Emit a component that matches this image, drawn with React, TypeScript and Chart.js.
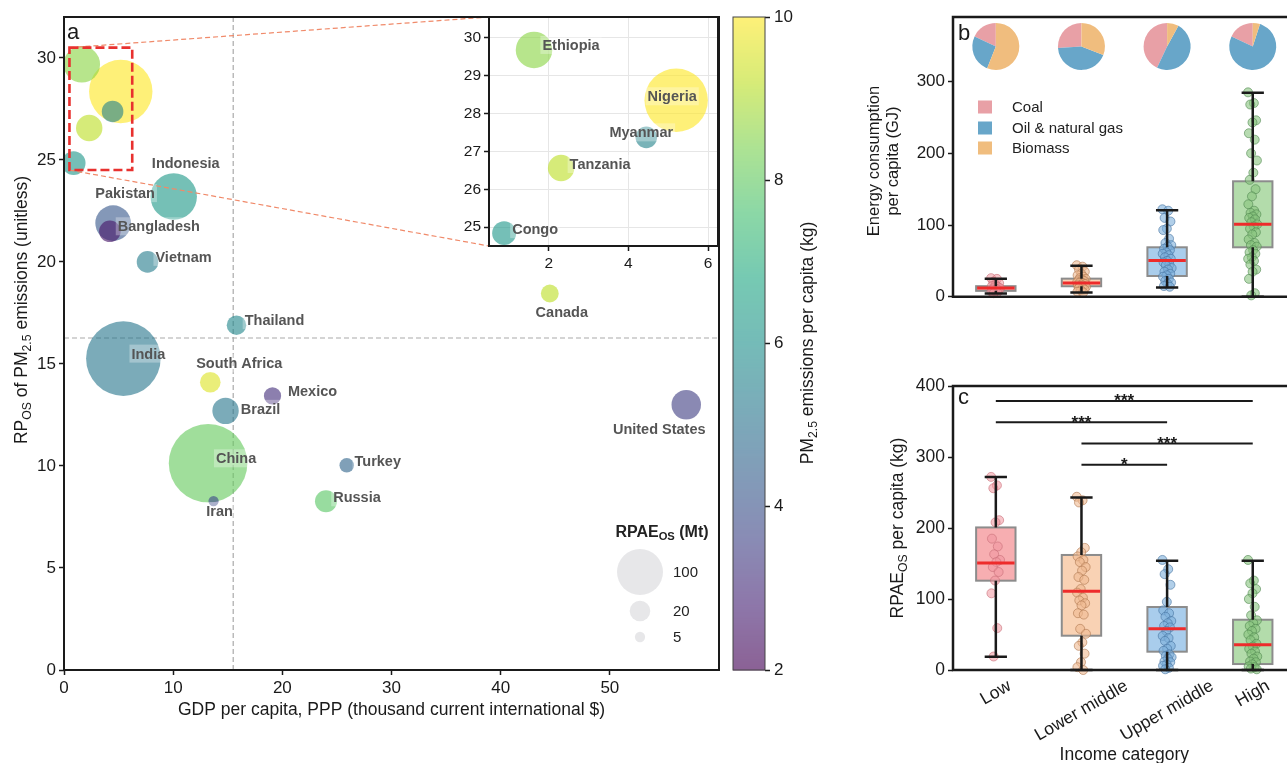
import React, { useEffect, useRef } from 'react';
import { Chart, registerables } from 'chart.js';

Chart.register(...registerables);

const FONT = '"Liberation Sans", Arial, Helvetica, sans-serif';
Chart.defaults.font.family = FONT;
Chart.defaults.color = '#1a1a1a';

// ================= Panel a data =================
const COUNTRIES = ['China', 'India', 'Nigeria', 'Indonesia', 'Ethiopia', 'Pakistan', 'United States', 'Brazil', 'Tanzania', 'Congo', 'Russia', 'Bangladesh', 'Vietnam', 'Myanmar', 'South Africa', 'Thailand', 'Canada', 'Mexico', 'Turkey', 'Iran'];
const GDP_PPP = [13.2, 5.44, 5.2, 10.05, 1.63, 4.5, 57.0, 14.8, 2.31, 0.88, 24.0, 4.2, 7.65, 4.45, 13.4, 15.8, 44.5, 19.1, 25.9, 13.7];
const RP_OS = [10.13, 15.26, 28.35, 23.2, 29.68, 21.9, 13.0, 12.7, 26.56, 24.84, 8.27, 21.5, 20.0, 27.37, 14.1, 16.9, 18.45, 13.43, 10.03, 8.28];
const PM_PER_CAPITA = [8.1, 5.2, 10.0, 6.3, 8.6, 4.2, 3.5, 5.2, 9.2, 6.2, 7.9, 2.5, 5.4, 5.6, 9.6, 5.7, 9.2, 3.1, 4.6, 3.8];
const RPAE_MT = [292, 263, 190, 102, 63, 60, 41, 33, 33, 27, 23, 22, 22, 22, 20, 18, 15, 14, 10, 5];
const GDP_SPLIT = 15.5;
const RP_SPLIT = 16.27;
const SIZE_LEGEND = [100, 20, 5];
const MAIN_X_TICKS = [0, 10, 20, 30, 40, 50];
const MAIN_Y_TICKS = [0, 5, 10, 15, 20, 25, 30];
const INSET_X = [0.5, 6.25];
const INSET_Y = [24.5, 30.55];
const INSET_X_TICKS = [2, 4, 6];
const INSET_Y_TICKS = [25, 26, 27, 28, 29, 30];
const CBAR_MIN = 2;
const CBAR_MAX = 10;
const CBAR_TICKS = [2, 4, 6, 8, 10];

// label layout (pixel offsets from bubble centre)
const LABEL_OFFSETS_MAIN: Record<string, [number, number]> = {
  Indonesia: [12, -34], Pakistan: [12, -30], Bangladesh: [49, -5], Vietnam: [36, -5], Thailand: [38, -5],
  Canada: [12, 18], India: [25, -5], 'South Africa': [29, -19], Mexico: [40, -5], Brazil: [35, -2],
  'United States': [-27, 24], China: [28, -5], Turkey: [31, -4], Iran: [6, 10], Russia: [31, -4],
};
const LABEL_OFFSETS_INSET: Record<string, [number, number]> = {
  Ethiopia: [37, -5], Nigeria: [-4, -4], Myanmar: [-5, -5], Tanzania: [39, -4], Congo: [31, -4],
};

// ================= Panel b / c data =================
const INCOME_GROUPS = ['Low', 'Lower middle', 'Upper middle', 'High'];

const ENERGY_LOW = [26, 25, 21, 19, 17, 15, 14, 13, 12, 11, 10, 9, 8, 7, 6, 5];
const ENERGY_LOWER_MIDDLE = [44, 42, 38, 35, 32, 30, 28, 26, 25, 24, 23, 22, 21, 20, 19, 19, 18, 17, 16, 15, 15, 14, 13, 12, 10, 9, 7, 6];
const ENERGY_UPPER_MIDDLE = [122, 120, 110, 105, 95, 93, 81, 75, 72, 70, 67, 65, 62, 60, 58, 55, 53, 50, 48, 45, 44, 40, 38, 35, 32, 30, 28, 25, 22, 20, 18, 15, 14];
const ENERGY_HIGH = [285, 270, 268, 246, 243, 228, 219, 200, 190, 173, 163, 150, 140, 129, 120, 117, 115, 112, 110, 108, 104, 101, 98, 95, 90, 87, 80, 75, 72, 70, 65, 62, 60, 55, 53, 50, 45, 38, 35, 25, 5, 2];
const ENERGY_Q1 = [8.3, 14.7, 29, 69];
const ENERGY_MEDIAN = [12.4, 19.3, 50.6, 101];
const ENERGY_Q3 = [14.8, 25.3, 69, 161];
const ENERGY_WHISK_LO = [4.6, 6, 12.9, 0];
const ENERGY_WHISK_HI = [25.3, 43.3, 120.6, 284.5];
const ENERGY_TICKS = [0, 100, 200, 300];

const SHARE_COAL = [18, 26, 43, 18];
const SHARE_OIL_GAS = [26, 43, 49, 77];
const SHARE_BIOMASS = [56, 31, 8, 5];
const FUEL_NAMES = ['Coal', 'Oil & natural gas', 'Biomass'];
const PIE_LEVEL = 349;

const RPAE_LOW = [272, 260, 256, 211, 208, 185, 174, 163, 155, 152, 145, 138, 126, 108, 59, 19];
const RPAE_LOWER_MIDDLE = [244, 239, 236, 172, 166, 160, 155, 152, 145, 140, 131, 127, 114, 109, 102, 98, 94, 91, 80, 78, 58, 51, 39, 34, 23, 11, 4, 0];
const RPAE_UPPER_MIDDLE = [155, 142, 135, 120, 96, 84, 80, 75, 69, 66, 62, 60, 55, 48, 45, 41, 34, 30, 27, 22, 20, 18, 16, 12, 11, 8, 6, 3, 1];
const RPAE_HIGH = [155, 126, 122, 114, 108, 100, 89, 77, 70, 66, 62, 58, 55, 50, 46, 42, 37, 33, 30, 26, 23, 19, 16, 12, 11, 8, 5, 4, 2, 1];
const RPAE_Q1 = [125.8, 48.3, 25.8, 8.4];
const RPAE_MEDIAN = [150.7, 111, 58.2, 35.6];
const RPAE_Q3 = [200.8, 162, 88.7, 70.8];
const RPAE_WHISK_LO = [18.7, 0, 0, 0];
const RPAE_WHISK_HI = [272, 243, 154, 154];
const RPAE_TICKS = [0, 100, 200, 300, 400];

const SIG_FROM = [0, 0, 1, 1];
const SIG_TO = [3, 2, 3, 2];
const SIG_LEVEL = [379, 349, 319, 289];
const SIG_TEXT = ['***', '***', '***', '*'];

// ================= styles =================
const VIRIDIS_STOPS = [[68, 1, 84], [72, 36, 117], [65, 68, 135], [53, 95, 141], [42, 120, 142], [33, 145, 140], [34, 168, 132], [68, 191, 112], [122, 209, 81], [189, 223, 38], [253, 231, 37]];
const BUBBLE_ALPHA = 0.62;
const FUEL_COLORS = ['#e8a0a6', '#68a6c9', '#f0bd7e'];
const BOX_FILLS = ['#f7aeb1', '#f9d2b4', '#a9cdec', '#b3dcab'];
const POINT_FILLS = ['rgba(240,150,158,0.55)', 'rgba(238,185,145,0.6)', 'rgba(125,175,218,0.6)', 'rgba(135,195,125,0.6)'];
const POINT_EDGES = ['rgba(200,110,120,0.6)', 'rgba(175,120,80,0.6)', 'rgba(70,115,160,0.6)', 'rgba(80,135,80,0.6)'];
const BOX_W = 0.46;
const CAP_W = 0.26;
const INK = '#1a1a1a';

function viridis(t: number): number[] {
  const tt = Math.max(0, Math.min(1, t)) * 10;
  const i = Math.min(9, Math.floor(tt));
  const f = tt - i;
  const a = VIRIDIS_STOPS[i];
  const b = VIRIDIS_STOPS[i + 1];
  return [0, 1, 2].map(k => a[k] + (b[k] - a[k]) * f);
}
function pmColor(v: number, alpha: number) {
  const [r, g, b] = viridis((v - CBAR_MIN) / (CBAR_MAX - CBAR_MIN));
  return `rgba(${Math.round(r)},${Math.round(g)},${Math.round(b)},${alpha})`;
}
function pmColorOpaque(v: number, alpha: number) {
  const c = viridis((v - CBAR_MIN) / (CBAR_MAX - CBAR_MIN)).map(x => Math.round(x * alpha + 255 * (1 - alpha)));
  return `rgb(${c[0]},${c[1]},${c[2]})`;
}
function bubbleRadius(v: number) {
  return 2.3 * Math.sqrt(v);
}
function jitter(i: number) {
  return (((i * 0.618034) % 1) - 0.5) * 0.11;
}
function fixedTicks(values: number[]) {
  return (s: any) => { s.ticks = values.map(v => ({ value: v })); };
}

type Run = [string, boolean];
function drawRich(ctx: CanvasRenderingContext2D, runs: Run[], x: number, y: number, size: number, weight: string, rot: number, color: string) {
  ctx.save();
  ctx.translate(x, y);
  ctx.rotate(rot);
  const sub = size * 0.7;
  let total = 0;
  const widths = runs.map(([t, s]) => {
    ctx.font = `${weight} ${s ? sub : size}px ${FONT}`;
    const w = ctx.measureText(t).width;
    total += w;
    return w;
  });
  let cx = -total / 2;
  ctx.textAlign = 'left';
  ctx.textBaseline = 'alphabetic';
  ctx.fillStyle = color;
  runs.forEach(([t, s], i) => {
    ctx.font = `${weight} ${s ? sub : size}px ${FONT}`;
    ctx.fillText(t, cx, s ? size * 0.36 + size * 0.2 : size * 0.36);
    cx += widths[i];
  });
  ctx.restore();
}

function drawCountryLabel(ctx: CanvasRenderingContext2D, text: string, cx: number, cy: number) {
  ctx.save();
  ctx.font = `bold 14.5px ${FONT}`;
  const w = ctx.measureText(text).width;
  ctx.fillStyle = 'rgba(255,255,255,0.3)';
  ctx.fillRect(cx - w / 2 - 2, cy - 9, w + 4, 18);
  ctx.fillStyle = '#555555';
  ctx.textAlign = 'center';
  ctx.textBaseline = 'middle';
  ctx.fillText(text, cx, cy + 1);
  ctx.restore();
}

function inInset(i: number) {
  return GDP_PPP[i] >= INSET_X[0] && GDP_PPP[i] <= INSET_X[1] && RP_OS[i] >= INSET_Y[0] && RP_OS[i] <= INSET_Y[1];
}

const tickGrid = { display: true, drawOnChartArea: false, drawTicks: true, tickLength: 5, tickColor: INK, tickWidth: 1.5 };
const noGrid = { display: false };
const baseOpts = {
  responsive: false,
  animation: false as const,
  events: [] as any[],
  devicePixelRatio: 1,
  plugins: { legend: { display: false }, tooltip: { enabled: false } },
};

// page positions of inset chart area
const INSET_CANVAS = { left: 440, top: 0, width: 290, height: 290 };
const INSET_AREA = { left: 489, top: 17, right: 718, bottom: 246 };

function bubbleDataset() {
  return {
    data: COUNTRIES.map((_, i) => ({ x: GDP_PPP[i], y: RP_OS[i], r: bubbleRadius(RPAE_MT[i]) })),
    backgroundColor: PM_PER_CAPITA.map(v => pmColor(v, BUBBLE_ALPHA)),
    borderWidth: 0,
    clip: 0,
  };
}

function mainConfig(): any {
  const plugin = {
    id: 'panelA',
    beforeDatasetsDraw(chart: any) {
      const { ctx, chartArea: a, scales: { x, y } } = chart;
      ctx.save();
      ctx.beginPath();
      ctx.rect(a.left, a.top, a.right - a.left, a.bottom - a.top);
      ctx.clip();
      ctx.strokeStyle = '#aaaaaa';
      ctx.lineWidth = 1.2;
      ctx.setLineDash([5, 3]);
      const vx = x.getPixelForValue(GDP_SPLIT);
      ctx.beginPath(); ctx.moveTo(vx, a.top); ctx.lineTo(vx, a.bottom); ctx.stroke();
      const hy = y.getPixelForValue(RP_SPLIT);
      ctx.beginPath(); ctx.moveTo(a.left, hy); ctx.lineTo(a.right, hy); ctx.stroke();
      ctx.restore();
    },
    afterDatasetsDraw(chart: any) {
      const { ctx, scales: { x, y } } = chart;
      COUNTRIES.forEach((c, i) => {
        if (inInset(i)) return;
        const off = LABEL_OFFSETS_MAIN[c] || [0, 0];
        drawCountryLabel(ctx, c, x.getPixelForValue(GDP_PPP[i]) + off[0], y.getPixelForValue(RP_OS[i]) + off[1]);
      });
      // zoom rectangle
      const rx0 = x.getPixelForValue(INSET_X[0]);
      const rx1 = x.getPixelForValue(INSET_X[1]);
      const ry0 = y.getPixelForValue(30.5);
      const ry1 = y.getPixelForValue(INSET_Y[0]);
      ctx.save();
      ctx.strokeStyle = '#f08a6a';
      ctx.lineWidth = 1.2;
      ctx.setLineDash([5, 3]);
      ctx.beginPath(); ctx.moveTo(rx0, ry0); ctx.lineTo(INSET_AREA.left, INSET_AREA.top); ctx.stroke();
      ctx.beginPath(); ctx.moveTo(rx0, ry1); ctx.lineTo(INSET_AREA.left, INSET_AREA.bottom); ctx.stroke();
      ctx.strokeStyle = '#e8312f';
      ctx.lineWidth = 2.6;
      ctx.setLineDash([9, 4]);
      ctx.strokeRect(rx0, ry0, rx1 - rx0, ry1 - ry0);
      ctx.restore();
      // size legend
      drawRich(ctx, [['RPAE', false], ['OS', true], [' (Mt)', false]], 662, 531, 16, 'bold', 0, '#222');
      const lcx = 640;
      const lys = [572, 611, 637];
      ctx.save();
      SIZE_LEGEND.forEach((v, k) => {
        ctx.fillStyle = 'rgba(215,215,218,0.6)';
        ctx.beginPath(); ctx.arc(lcx, lys[k], bubbleRadius(v), 0, Math.PI * 2); ctx.fill();
        ctx.fillStyle = '#222';
        ctx.font = `15px ${FONT}`;
        ctx.textAlign = 'left';
        ctx.textBaseline = 'middle';
        ctx.fillText(String(v), 673, lys[k] + 1);
      });
      ctx.restore();
    },
    afterDraw(chart: any) {
      const { ctx, chartArea: a } = chart;
      ctx.save();
      ctx.strokeStyle = INK;
      ctx.lineWidth = 2;
      ctx.strokeRect(a.left, a.top, a.right - a.left, a.bottom - a.top);
      ctx.fillStyle = INK;
      ctx.font = `22px ${FONT}`;
      ctx.textAlign = 'left';
      ctx.textBaseline = 'alphabetic';
      ctx.fillText('a', 67, 39);
      ctx.font = `17.5px ${FONT}`;
      ctx.textAlign = 'center';
      ctx.textBaseline = 'middle';
      ctx.fillText('GDP per capita, PPP (thousand current international $)', (a.left + a.right) / 2, 710);
      ctx.restore();
      drawRich(ctx, [['RP', false], ['OS', true], [' of PM', false], ['2.5', true], [' emissions (unitless)', false]], 21, 310, 17.5, 'normal', -Math.PI / 2, INK);
    },
  };
  return {
    type: 'bubble',
    data: { datasets: [bubbleDataset()] },
    options: {
      ...baseOpts,
      layout: { autoPadding: false, padding: { left: 0, top: 17, right: 11, bottom: 0 } },
      scales: {
        x: {
          type: 'linear', min: 0, max: 60,
          ticks: { font: { size: 17 }, padding: 3, maxRotation: 0, autoSkip: false },
          grid: tickGrid, border: { display: false },
          afterBuildTicks: fixedTicks(MAIN_X_TICKS),
          afterFit: (s: any) => { s.height = 93; },
        },
        y: {
          type: 'linear', min: 0, max: 32,
          ticks: { font: { size: 17 }, padding: 3, autoSkip: false },
          grid: tickGrid, border: { display: false },
          afterBuildTicks: fixedTicks(MAIN_Y_TICKS),
          afterFit: (s: any) => { s.width = 64; },
        },
      },
    },
    plugins: [plugin],
  };
}

function insetConfig(): any {
  const plugin = {
    id: 'inset',
    beforeDraw(chart: any) {
      const { ctx, chartArea: a } = chart;
      ctx.save();
      ctx.fillStyle = '#ffffff';
      ctx.fillRect(a.left, a.top, a.right - a.left, a.bottom - a.top);
      ctx.restore();
    },
    afterDatasetsDraw(chart: any) {
      const { ctx, scales: { x, y } } = chart;
      COUNTRIES.forEach((c, i) => {
        if (!inInset(i)) return;
        const off = LABEL_OFFSETS_INSET[c] || [0, 0];
        drawCountryLabel(ctx, c, x.getPixelForValue(GDP_PPP[i]) + off[0], y.getPixelForValue(RP_OS[i]) + off[1]);
      });
    },
    afterDraw(chart: any) {
      const { ctx, chartArea: a } = chart;
      ctx.save();
      ctx.strokeStyle = INK;
      ctx.lineWidth = 2;
      ctx.strokeRect(a.left, a.top, a.right - a.left, a.bottom - a.top);
      ctx.restore();
    },
  };
  const grid = { display: true, drawOnChartArea: true, color: '#e6e6e6', lineWidth: 1, drawTicks: true, tickLength: 5, tickColor: INK, tickWidth: 1.5 };
  return {
    type: 'bubble',
    data: { datasets: [bubbleDataset()] },
    options: {
      ...baseOpts,
      layout: { autoPadding: false, padding: { left: 0, top: INSET_AREA.top - INSET_CANVAS.top, right: INSET_CANVAS.left + INSET_CANVAS.width - INSET_AREA.right, bottom: 0 } },
      scales: {
        x: {
          type: 'linear', min: INSET_X[0], max: INSET_X[1],
          ticks: { font: { size: 15.5 }, padding: 3, maxRotation: 0, autoSkip: false },
          grid, border: { display: false },
          afterBuildTicks: fixedTicks(INSET_X_TICKS),
          afterFit: (s: any) => { s.height = INSET_CANVAS.top + INSET_CANVAS.height - INSET_AREA.bottom; },
        },
        y: {
          type: 'linear', min: INSET_Y[0], max: INSET_Y[1],
          ticks: { font: { size: 15.5 }, padding: 3, autoSkip: false },
          grid, border: { display: false },
          afterBuildTicks: fixedTicks(INSET_Y_TICKS),
          afterFit: (s: any) => { s.width = INSET_AREA.left - INSET_CANVAS.left; },
        },
      },
    },
    plugins: [plugin],
  };
}

function cbarConfig(): any {
  const plugin = {
    id: 'cbar',
    beforeDatasetsDraw(chart: any) {
      const { ctx, chartArea: a, scales: { y } } = chart;
      ctx.save();
      const step = 0.02;
      for (let v = CBAR_MIN; v < CBAR_MAX - 1e-9; v += step) {
        const y0 = y.getPixelForValue(Math.min(CBAR_MAX, v + step));
        const y1 = y.getPixelForValue(v);
        ctx.fillStyle = pmColorOpaque(v + step / 2, BUBBLE_ALPHA);
        ctx.fillRect(a.left, Math.floor(y0), a.right - a.left, Math.ceil(y1) - Math.floor(y0) + 0.5);
      }
      ctx.strokeStyle = '#444';
      ctx.lineWidth = 1;
      ctx.strokeRect(a.left, a.top, a.right - a.left, a.bottom - a.top);
      ctx.restore();
      drawRich(ctx, [['PM', false], ['2.5', true], [' emissions per capita (kg)', false]], 77, 343, 17.5, 'normal', -Math.PI / 2, INK);
    },
  };
  return {
    type: 'scatter',
    data: { datasets: [] },
    options: {
      ...baseOpts,
      layout: { autoPadding: false, padding: { left: 3, top: 17, right: 0, bottom: 0 } },
      scales: {
        x: {
          type: 'linear', min: 0, max: 1,
          ticks: { display: false }, grid: noGrid, border: { display: false },
          afterFit: (s: any) => { s.height = 93; },
        },
        y: {
          type: 'linear', position: 'right', min: CBAR_MIN, max: CBAR_MAX,
          ticks: { font: { size: 17 }, padding: 4, autoSkip: false },
          grid: tickGrid, border: { display: false },
          afterBuildTicks: fixedTicks(CBAR_TICKS),
          afterFit: (s: any) => { s.width = 95; },
        },
      },
    },
    plugins: [plugin],
  };
}

function drawBoxes(chart: any, q1: number[], q3: number[]) {
  const { ctx, scales: { x, y } } = chart;
  ctx.save();
  for (let i = 0; i < q1.length; i++) {
    const l = x.getPixelForValue(i - BOX_W / 2);
    const r = x.getPixelForValue(i + BOX_W / 2);
    const t = y.getPixelForValue(q3[i]);
    const b = y.getPixelForValue(q1[i]);
    ctx.fillStyle = BOX_FILLS[i];
    ctx.fillRect(l, t, r - l, b - t);
    ctx.strokeStyle = '#8c8c8c';
    ctx.lineWidth = 2;
    ctx.strokeRect(l, t, r - l, b - t);
  }
  ctx.restore();
}
function drawWhiskers(chart: any, q1: number[], med: number[], q3: number[], lo: number[], hi: number[]) {
  const { ctx, scales: { x, y } } = chart;
  ctx.save();
  for (let i = 0; i < q1.length; i++) {
    const cx = x.getPixelForValue(i);
    const cl = x.getPixelForValue(i - CAP_W / 2);
    const cr = x.getPixelForValue(i + CAP_W / 2);
    ctx.strokeStyle = INK;
    ctx.lineWidth = 2.5;
    ctx.beginPath();
    ctx.moveTo(cx, y.getPixelForValue(q3[i])); ctx.lineTo(cx, y.getPixelForValue(hi[i]));
    ctx.moveTo(cx, y.getPixelForValue(q1[i])); ctx.lineTo(cx, y.getPixelForValue(lo[i]));
    ctx.moveTo(cl, y.getPixelForValue(hi[i])); ctx.lineTo(cr, y.getPixelForValue(hi[i]));
    ctx.moveTo(cl, y.getPixelForValue(lo[i])); ctx.lineTo(cr, y.getPixelForValue(lo[i]));
    ctx.stroke();
    const l = x.getPixelForValue(i - BOX_W / 2);
    const r = x.getPixelForValue(i + BOX_W / 2);
    ctx.strokeStyle = '#ee2b2b';
    ctx.lineWidth = 3;
    ctx.beginPath();
    ctx.moveTo(l + 1, y.getPixelForValue(med[i])); ctx.lineTo(r - 1, y.getPixelForValue(med[i]));
    ctx.stroke();
  }
  ctx.restore();
}
function drawFrame(chart: any) {
  const { ctx, chartArea: a } = chart;
  ctx.save();
  ctx.strokeStyle = INK;
  ctx.lineWidth = 2.5;
  ctx.beginPath();
  ctx.moveTo(a.right + 2, a.top); ctx.lineTo(a.left, a.top); ctx.lineTo(a.left, a.bottom); ctx.lineTo(a.right + 2, a.bottom);
  ctx.stroke();
  ctx.restore();
}
function stripDatasets(groups: number[][]) {
  return groups.map((vals, g) => ({
    data: vals.map((v, i) => ({ x: g + jitter(i), y: v })),
    backgroundColor: POINT_FILLS[g],
    borderColor: POINT_EDGES[g],
    borderWidth: 1,
    pointRadius: 4.5,
    clip: false,
  }));
}

function panelBConfig(): any {
  const plugin = {
    id: 'panelB',
    beforeDatasetsDraw(chart: any) { drawBoxes(chart, ENERGY_Q1, ENERGY_Q3); },
    afterDatasetsDraw(chart: any) {
      drawWhiskers(chart, ENERGY_Q1, ENERGY_MEDIAN, ENERGY_Q3, ENERGY_WHISK_LO, ENERGY_WHISK_HI);
      const { ctx, scales: { x, y } } = chart;
      ctx.save();
      INCOME_GROUPS.forEach((_, i) => {
        const cx = x.getPixelForValue(i);
        const cy = y.getPixelForValue(PIE_LEVEL);
        const shares = [SHARE_COAL[i], SHARE_OIL_GAS[i], SHARE_BIOMASS[i]];
        const tot = shares.reduce((s, v) => s + v, 0);
        let ang = -Math.PI / 2;
        shares.forEach((s, k) => {
          const sweep = (s / tot) * Math.PI * 2;
          ctx.fillStyle = FUEL_COLORS[k];
          ctx.beginPath();
          ctx.moveTo(cx, cy);
          ctx.arc(cx, cy, 23.5, ang, ang - sweep, true);
          ctx.closePath();
          ctx.fill();
          ang -= sweep;
        });
      });
      // legend
      const ly = [107, 128, 148];
      FUEL_NAMES.forEach((n, k) => {
        ctx.fillStyle = FUEL_COLORS[k];
        ctx.fillRect(118, ly[k] - 6.5, 14, 13);
        ctx.fillStyle = '#222';
        ctx.font = `15px ${FONT}`;
        ctx.textAlign = 'left';
        ctx.textBaseline = 'middle';
        ctx.fillText(n, 152, ly[k] + 1);
      });
      ctx.restore();
    },
    afterDraw(chart: any) {
      drawFrame(chart);
      const { ctx } = chart;
      ctx.save();
      ctx.fillStyle = INK;
      ctx.font = `22px ${FONT}`;
      ctx.textAlign = 'left';
      ctx.textBaseline = 'alphabetic';
      ctx.fillText('b', 98, 40);
      ctx.font = `16.5px ${FONT}`;
      ctx.textAlign = 'center';
      ctx.textBaseline = 'middle';
      ctx.translate(0, 161);
      ctx.rotate(-Math.PI / 2);
      ctx.fillText('Energy consumption', 0, 14);
      ctx.fillText('per capita (GJ)', 0, 33);
      ctx.restore();
    },
  };
  return {
    type: 'scatter',
    data: { datasets: stripDatasets([ENERGY_LOW, ENERGY_LOWER_MIDDLE, ENERGY_UPPER_MIDDLE, ENERGY_HIGH]) },
    options: {
      ...baseOpts,
      layout: { autoPadding: false, padding: { left: 0, top: 17, right: 0, bottom: 0 } },
      scales: {
        x: {
          type: 'linear', min: -0.5, max: 3.4,
          ticks: { display: false }, grid: noGrid, border: { display: false },
          afterFit: (s: any) => { s.height = 10; },
        },
        y: {
          type: 'linear', min: 0, max: 390,
          ticks: { font: { size: 17 }, padding: 3, autoSkip: false },
          grid: tickGrid, border: { display: false },
          afterBuildTicks: fixedTicks(ENERGY_TICKS),
          afterFit: (s: any) => { s.width = 93; },
        },
      },
    },
    plugins: [plugin],
  };
}

function panelCConfig(): any {
  const plugin = {
    id: 'panelC',
    beforeDatasetsDraw(chart: any) { drawBoxes(chart, RPAE_Q1, RPAE_Q3); },
    afterDatasetsDraw(chart: any) {
      drawWhiskers(chart, RPAE_Q1, RPAE_MEDIAN, RPAE_Q3, RPAE_WHISK_LO, RPAE_WHISK_HI);
      const { ctx, scales: { x, y } } = chart;
      ctx.save();
      SIG_LEVEL.forEach((lv, k) => {
        const x0 = x.getPixelForValue(SIG_FROM[k]);
        const x1 = x.getPixelForValue(SIG_TO[k]);
        const py = y.getPixelForValue(lv);
        ctx.strokeStyle = INK;
        ctx.lineWidth = 2;
        ctx.beginPath(); ctx.moveTo(x0, py); ctx.lineTo(x1, py); ctx.stroke();
        ctx.fillStyle = INK;
        ctx.font = `bold 17px ${FONT}`;
        ctx.textAlign = 'center';
        ctx.textBaseline = 'alphabetic';
        ctx.fillText(SIG_TEXT[k], (x0 + x1) / 2, py + 5.5);
      });
      ctx.restore();
    },
    afterDraw(chart: any) {
      drawFrame(chart);
      const { ctx, chartArea: a, scales: { x } } = chart;
      ctx.save();
      ctx.fillStyle = INK;
      ctx.font = `22px ${FONT}`;
      ctx.textAlign = 'left';
      ctx.textBaseline = 'alphabetic';
      ctx.fillText('c', 98, 34);
      const fs = 17.5;
      ctx.font = `${fs}px ${FONT}`;
      INCOME_GROUPS.forEach((g, i) => {
        const w = ctx.measureText(g).width;
        const bh = w * Math.sin(Math.PI / 6) + fs * 0.9 * Math.cos(Math.PI / 6);
        ctx.save();
        ctx.translate(x.getPixelForValue(i), a.bottom + 8 + bh / 2);
        ctx.rotate(-Math.PI / 6);
        ctx.textAlign = 'center';
        ctx.textBaseline = 'middle';
        ctx.fillText(g, 0, 0);
        ctx.restore();
      });
      ctx.textAlign = 'center';
      ctx.textBaseline = 'middle';
      ctx.fillText('Income category', (x.getPixelForValue(0) + x.getPixelForValue(3)) / 2, 385);
      ctx.restore();
      drawRich(ctx, [['RPAE', false], ['OS', true], [' per capita (kg)', false]], 37, 158, 17.5, 'normal', -Math.PI / 2, INK);
    },
  };
  return {
    type: 'scatter',
    data: { datasets: stripDatasets([RPAE_LOW, RPAE_LOWER_MIDDLE, RPAE_UPPER_MIDDLE, RPAE_HIGH]) },
    options: {
      ...baseOpts,
      layout: { autoPadding: false, padding: { left: 0, top: 16, right: 0, bottom: 0 } },
      scales: {
        x: {
          type: 'linear', min: -0.5, max: 3.4,
          ticks: { display: false }, grid: noGrid, border: { display: false },
          afterFit: (s: any) => { s.height = 93; },
        },
        y: {
          type: 'linear', min: 0, max: 400,
          ticks: { font: { size: 17.5 }, padding: 3, autoSkip: false },
          grid: tickGrid, border: { display: false },
          afterBuildTicks: fixedTicks(RPAE_TICKS),
          afterFit: (s: any) => { s.width = 93; },
        },
      },
    },
    plugins: [plugin],
  };
}

export default function App() {
  const mainRef = useRef<HTMLCanvasElement>(null);
  const insetRef = useRef<HTMLCanvasElement>(null);
  const cbarRef = useRef<HTMLCanvasElement>(null);
  const bRef = useRef<HTMLCanvasElement>(null);
  const cRef = useRef<HTMLCanvasElement>(null);

  useEffect(() => {
    const charts: Chart[] = [];
    charts.push(new Chart(mainRef.current as HTMLCanvasElement, mainConfig()));
    charts.push(new Chart(insetRef.current as HTMLCanvasElement, insetConfig()));
    charts.push(new Chart(cbarRef.current as HTMLCanvasElement, cbarConfig()));
    charts.push(new Chart(bRef.current as HTMLCanvasElement, panelBConfig()));
    charts.push(new Chart(cRef.current as HTMLCanvasElement, panelCConfig()));
    return () => charts.forEach(c => c.destroy());
  }, []);

  const abs = (left: number, top: number, width: number, height: number): React.CSSProperties => ({
    position: 'absolute', left, top, width, height, display: 'block',
  });

  return (
    <div style={{ position: 'fixed', left: 0, top: 0, width: 1287, height: 763, background: '#ffffff', overflow: 'hidden' }}>
      <canvas ref={mainRef} width={730} height={763} style={abs(0, 0, 730, 763)} />
      <canvas ref={insetRef} width={INSET_CANVAS.width} height={INSET_CANVAS.height} style={abs(INSET_CANVAS.left, INSET_CANVAS.top, INSET_CANVAS.width, INSET_CANVAS.height)} />
      <canvas ref={cbarRef} width={130} height={763} style={abs(730, 0, 130, 763)} />
      <canvas ref={bRef} width={427} height={310} style={abs(860, 0, 427, 310)} />
      <canvas ref={cRef} width={427} height={393} style={abs(860, 370, 427, 393)} />
    </div>
  );
}
